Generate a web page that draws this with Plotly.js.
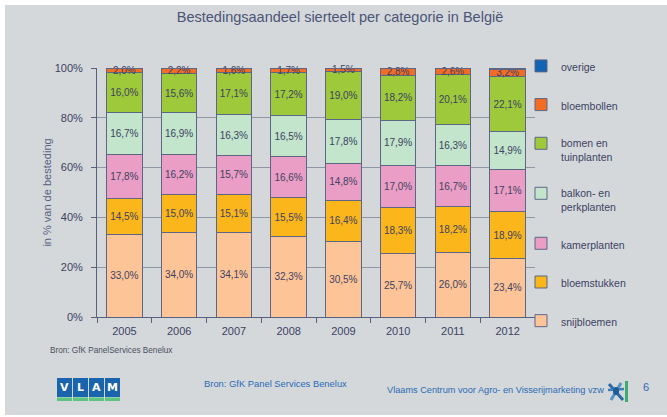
<!DOCTYPE html>
<html>
<head>
<meta charset="utf-8">
<script src="https://cdn.plot.ly/plotly-3.0.1.min.js"></script>
<style>
html,body{margin:0;padding:0;background:#ffffff;}
#chart{width:667px;height:417px;}
</style>
</head>
<body>
<div id="chart"></div>
<script>
const years = ['2005','2006','2007','2008','2009','2010','2011','2012'];
const snijbloemen = [33.0, 34.0, 34.1, 32.3, 30.5, 25.7, 26.0, 23.4];
const bloemstukken = [14.5, 15.0, 15.1, 15.5, 16.4, 18.3, 18.2, 18.9];
const kamerplanten = [17.8, 16.2, 15.7, 16.6, 14.8, 17.0, 16.7, 17.1];
const balkonplanten = [16.7, 16.9, 16.3, 16.5, 17.8, 17.9, 16.3, 14.9];
const bomen = [16.0, 15.6, 17.1, 17.2, 19.0, 18.2, 20.1, 22.1];
const bloembollen = [2.0, 2.2, 1.6, 1.7, 1.5, 2.8, 2.6, 3.2];
const overige = [0.0, 0.1, 0.1, 0.2, 0.0, 0.1, 0.1, 0.4];

const seriesNames = ['snijbloemen','bloemstukken','kamerplanten','balkon- en<br>perkplanten','bomen en<br>tuinplanten','bloembollen','overige'];
const seriesValues = [snijbloemen, bloemstukken, kamerplanten, balkonplanten, bomen, bloembollen, overige];
const seriesColors = ['#fdc597','#fbb61c','#eb9ec5','#c2e5cc','#9ec93b','#f26c24','#1064b3'];
const showLabels = [true,true,true,true,true,true,false];

const fmt = v => v.toFixed(1).replace('.', ',') + '%';
const W = 438, H = 249, L = 97, T = 68;
const px = x => (x - L) / W;
const py = y => (T + H - y) / H;

const traces = seriesValues.map((vals, i) => ({
  type: 'bar',
  name: seriesNames[i],
  x: years,
  y: vals,
  text: showLabels[i] ? vals.map(fmt) : vals.map(() => ''),
  textposition: 'inside',
  insidetextanchor: 'middle',
  textangle: 0,
  constraintext: 'none',
  cliponaxis: false,
  textfont: {family: 'Liberation Sans, Arial, sans-serif', size: 10, color: '#3d4262'},
  marker: {color: seriesColors[i], line: {color: '#5d6685', width: 1}},
  hoverinfo: 'x+y+name',
  legendgroup: 'g' + i,
  legendrank: seriesValues.length - i
}));

const shapes = [
  {type:'rect', xref:'paper', yref:'paper', x0:px(5), x1:px(667), y0:py(415), y1:py(5), fillcolor:'#d4d8db', line:{width:0}, layer:'below'}
];
const logoL = ['V','L','A','M'];
const annotations = [
  {xref:'paper', yref:'paper', x:px(48), y:py(350), xanchor:'left', yanchor:'middle', showarrow:false,
   text:'Bron: GfK PanelServices Benelux', font:{family:'Liberation Sans, Arial, sans-serif', size:8.2, color:'#4a4f5e'}},
  {xref:'paper', yref:'paper', x:px(202), y:py(383), xanchor:'left', yanchor:'middle', showarrow:false,
   text:'Bron: GfK Panel Services Benelux', font:{family:'Liberation Sans, Arial, sans-serif', size:9.4, color:'#2a6cb5'}},
  {xref:'paper', yref:'paper', x:px(385), y:py(390), xanchor:'left', yanchor:'middle', showarrow:false,
   text:'Vlaams Centrum voor Agro- en Visserijmarketing vzw', font:{family:'Liberation Sans, Arial, sans-serif', size:9.2, color:'#2a6cb5'}},
  {xref:'paper', yref:'paper', x:px(646), y:py(387), xanchor:'center', yanchor:'middle', showarrow:false,
   text:'6', font:{family:'Liberation Sans, Arial, sans-serif', size:11, color:'#2a6cb5'}}
];
logoL.forEach((letter, i) => {
  const lx = 57 + i * 16;
  shapes.push({type:'rect', xref:'paper', yref:'paper', x0:px(lx), x1:px(lx+15), y0:py(397), y1:py(378), fillcolor:'#1a64ad', line:{width:0}});
  shapes.push({type:'rect', xref:'paper', yref:'paper', x0:px(lx), x1:px(lx+15), y0:py(401), y1:py(397.5), fillcolor:'#5cc47f', line:{width:0}});
  annotations.push({xref:'paper', yref:'paper', x:px(lx+7.5), y:py(387.5), xanchor:'center', yanchor:'middle', showarrow:false,
    text:'<b>'+letter+'</b>', font:{family:'DejaVu Sans, sans-serif', size:11, color:'#ffffff'}});
});
// small icon
shapes.push({type:'rect', xref:'paper', yref:'paper', x0:px(625), x1:px(628), y0:py(402), y1:py(381), fillcolor:'#3dac6e', line:{width:0}});
shapes.push({type:'line', xref:'paper', yref:'paper', x0:px(609), x1:px(623), y0:py(384), y1:py(400), line:{color:'#2a6aa5', width:3}});
shapes.push({type:'line', xref:'paper', yref:'paper', x0:px(621), x1:px(611), y0:py(383), y1:py(400), line:{color:'#5a92c4', width:3}});
shapes.push({type:'line', xref:'paper', yref:'paper', x0:px(608), x1:px(624), y0:py(390), y1:py(389), line:{color:'#3f7db6', width:2.5}});
shapes.push({type:'circle', xref:'paper', yref:'paper', x0:px(613), x1:px(619), y0:py(395), y1:py(387), fillcolor:'#1d5c99', line:{width:0}});

const layout = {
  width: 667, height: 417,
  paper_bgcolor: '#ffffff',
  plot_bgcolor: 'rgba(0,0,0,0)',
  margin: {l: 97, r: 132, t: 68, b: 100},
  barmode: 'stack',
  bargap: 0.35,
  title: {text: 'Bestedingsaandeel sierteelt per categorie in België', x: 340/667, xref: 'container', xanchor:'center', y: 1 - 17/417, yanchor:'middle',
    font: {family: 'Liberation Sans, Arial, sans-serif', size: 14.5, color: '#4b5577'}},
  font: {family: 'Liberation Sans, Arial, sans-serif', color: '#3d4262'},
  xaxis: {
    type: 'category',
    tickfont: {size: 11, color: '#3d4262'},
    showline: true, linecolor: '#58607f', linewidth: 1,
    ticks: 'outside', tickson: 'boundaries', ticklen: 5, tickcolor: '#58607f',
    ticklabelstandoff: 4,
    showgrid: false
  },
  yaxis: {
    range: [0, 100],
    tickvals: [0, 20, 40, 60, 80, 100],
    ticktext: ['0%','20%','40%','60%','80%','100%'],
    tickfont: {size: 11, color: '#3d4262'},
    showline: true, linecolor: '#58607f', linewidth: 1,
    ticks: 'outside', ticklen: 5, tickcolor: '#58607f',
    ticklabelstandoff: 6,
    showgrid: true, gridcolor: '#8f96a6', gridwidth: 1,
    zeroline: false,
    automargin: true,
    title: {text: 'in % van de besteding', font: {size: 11, color: '#5a6280'}, standoff: 0}
  },
  showlegend: true,
  legend: {
    x: px(521), xanchor: 'left', y: 1.062, yanchor: 'top',
    traceorder: 'grouped',
    tracegroupgap: 19.7,
    valign: 'top',
    maxheight: 400,
    bgcolor: 'rgba(0,0,0,0)',
    font: {family: 'Liberation Sans, Arial, sans-serif', size: 10.5, color: '#3d4262'},
    itemwidth: 30
  },
  shapes: shapes,
  annotations: annotations
};

Plotly.newPlot('chart', traces, layout, {displayModeBar: false, staticPlot: true});
</script>
</body>
</html>
